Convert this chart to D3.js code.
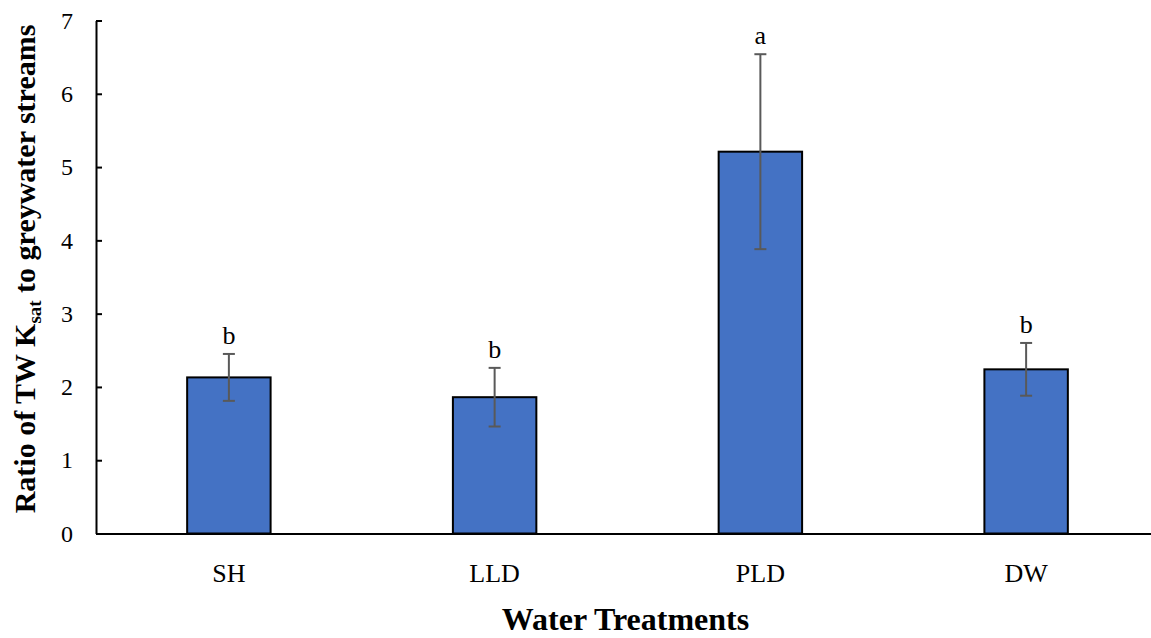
<!DOCTYPE html>
<html>
<head>
<meta charset="utf-8">
<script src="https://cdn.jsdelivr.net/npm/d3@7/dist/d3.min.js"></script>
<style>
  html, body { margin: 0; padding: 0; background: #fff; }
  svg { display: block; }
</style>
</head>
<body>
<svg id="chart" width="1151" height="638"></svg>
<script>
// Treatment groups and their mean ratios with standard errors
const categories = ["SH", "LLD", "PLD", "DW"];
const means = [2.13, 1.86, 5.21, 2.24];
const errors = [0.32, 0.40, 1.33, 0.36];
const letters = ["b", "b", "a", "b"];
const yTicks = [0, 1, 2, 3, 4, 5, 6, 7];

const serif = "'Liberation Serif', 'DejaVu Serif'";
const svg = d3.select("#chart");
const plotLeft = 96, plotRight = 1159, plotTop = 20.5, plotBottom = 533.5;

const x = d3.scaleBand().domain(categories).range([plotLeft, plotRight]).paddingInner(0.686).paddingOuter(0.343);
const y = d3.scaleLinear().domain([0, 7]).range([plotBottom, plotTop]);

const data = categories.map((c, i) => ({ c, m: means[i], e: errors[i], l: letters[i] }));

// Bars
svg.append("g").selectAll("rect").data(data).join("rect")
  .attr("x", d => x(d.c))
  .attr("y", d => y(d.m))
  .attr("width", x.bandwidth())
  .attr("height", d => y(0) - y(d.m))
  .attr("fill", "#4472C4")
  .attr("stroke", "#000")
  .attr("stroke-width", 2);

// Error bars
const eb = svg.append("g").attr("stroke", "#595959").attr("stroke-width", 2);
data.forEach(d => {
  const cx = x(d.c) + x.bandwidth() / 2;
  eb.append("line").attr("x1", cx).attr("x2", cx).attr("y1", y(d.m + d.e)).attr("y2", y(d.m - d.e));
  eb.append("line").attr("x1", cx - 6).attr("x2", cx + 6).attr("y1", y(d.m + d.e)).attr("y2", y(d.m + d.e));
  eb.append("line").attr("x1", cx - 6).attr("x2", cx + 6).attr("y1", y(d.m - d.e)).attr("y2", y(d.m - d.e));
});

// Significance letters
svg.append("g").selectAll("text").data(data).join("text")
  .attr("x", d => x(d.c) + x.bandwidth() / 2)
  .attr("y", d => y(d.m + d.e) - 10)
  .attr("text-anchor", "middle")
  .attr("font-family", serif)
  .attr("font-size", 26)
  .text(d => d.l);

// Y axis with inward ticks
const yAxis = svg.append("g").attr("transform", `translate(${plotLeft},0)`)
  .call(d3.axisLeft(y).tickValues(yTicks).tickSizeInner(-6).tickSizeOuter(0).tickPadding(23).tickFormat(d3.format("d")))
  .attr("font-family", serif).attr("font-size", 24);
yAxis.select(".domain").attr("stroke", "#000").attr("stroke-width", 2);
yAxis.selectAll(".tick line").attr("stroke", "#000").attr("stroke-width", 2);
yAxis.selectAll(".tick text").attr("fill", "#000");

// X axis
const xAxis = svg.append("g").attr("transform", `translate(0,${plotBottom})`)
  .call(d3.axisBottom(x).tickSize(0).tickPadding(30))
  .attr("font-family", serif).attr("font-size", 26);
xAxis.select(".domain").attr("stroke", "#000").attr("stroke-width", 2);
xAxis.selectAll(".tick text").attr("fill", "#000");

// Axis titles
svg.append("text")
  .attr("x", (plotLeft + plotRight) / 2 - 2)
  .attr("y", 630)
  .attr("text-anchor", "middle")
  .attr("font-family", serif)
  .attr("font-size", 32)
  .attr("font-weight", "bold")
  .text("Water Treatments");

const yt = svg.append("text")
  .attr("transform", "translate(35,269) rotate(-90)")
  .attr("text-anchor", "middle")
  .attr("font-family", serif)
  .attr("font-size", 30)
  .attr("font-weight", "bold");
yt.append("tspan").text("Ratio of TW K");
yt.append("tspan").attr("font-size", 19).attr("dy", 6).text("sat");
yt.append("tspan").attr("dy", -6).text(" to greywater streams");
</script>
</body>
</html>
